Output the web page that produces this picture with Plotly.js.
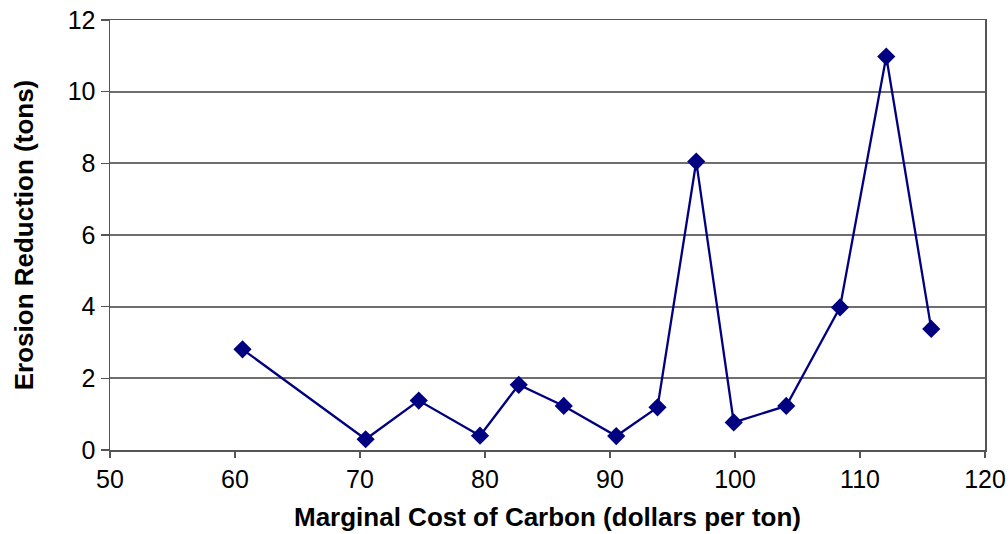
<!DOCTYPE html>
<html>
<head>
<meta charset="utf-8">
<script src="https://cdn.plot.ly/plotly-3.0.1.min.js"></script>
<style>html,body{margin:0;padding:0;background:#fff;}#chart{width:1008px;height:534px;}</style>
</head>
<body>
<div id="chart"></div>
<script>
var marginalCost = [60.6, 70.45, 74.7, 79.6, 82.7, 86.3, 90.5, 93.8, 96.9, 99.9, 104.1, 108.4, 112.1, 115.7];
var erosionReduction = [2.81, 0.3, 1.38, 0.4, 1.82, 1.23, 0.39, 1.19, 8.05, 0.77, 1.23, 3.98, 10.98, 3.38];
var xTicks = [50, 60, 70, 80, 90, 100, 110, 120];
var yTicks = [0, 2, 4, 6, 8, 10, 12];

var trace = {
  x: marginalCost,
  y: erosionReduction,
  type: 'scatter',
  mode: 'lines+markers',
  line: {color: '#000080', width: 2.3},
  marker: {symbol: 'diamond', size: 14, color: '#000080'},
  hoverinfo: 'x+y'
};

var layout = {
  width: 1008,
  height: 534,
  margin: {l: 110, r: 23, t: 20, b: 84},
  paper_bgcolor: '#ffffff',
  plot_bgcolor: '#ffffff',
  showlegend: false,
  font: {family: 'Liberation Sans, Arial, sans-serif', color: '#000000', size: 25},
  xaxis: {
    range: [50, 120],
    tickvals: xTicks,
    ticktext: xTicks.map(String),
    ticks: 'outside',
    ticklen: 6,
    tickwidth: 1.5,
    tickcolor: '#555555',
    showgrid: false,
    zeroline: false,
    showline: true,
    linecolor: '#555555',
    linewidth: 1.5,
    mirror: true,
    automargin: false,
    tickfont: {size: 25},
    title: {text: '<b>Marginal Cost of Carbon (dollars per ton)</b>', font: {size: 26}, standoff: 16}
  },
  yaxis: {
    range: [0, 12],
    tickvals: yTicks,
    ticktext: yTicks.map(String),
    ticks: 'outside',
    ticklen: 8,
    tickwidth: 1.5,
    tickcolor: '#555555',
    showgrid: true,
    gridcolor: '#6e6e6e',
    gridwidth: 2,
    zeroline: false,
    showline: true,
    linecolor: '#555555',
    linewidth: 1.5,
    mirror: true,
    automargin: false,
    tickfont: {size: 25},
    title: {text: '<b>Erosion Reduction (tons)</b>', font: {size: 26}, standoff: 26}
  }
};

Plotly.newPlot('chart', [trace], layout, {displayModeBar: false, staticPlot: true});
</script>
</body>
</html>
